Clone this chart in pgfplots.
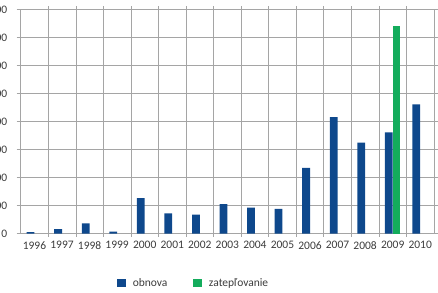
\documentclass[border=0pt]{standalone}
\usepackage{pgfplots}
\pgfplotsset{compat=1.18}
\usepackage{fontspec}
\setmainfont{Carlito}
\definecolor{barblue}{RGB}{14,72,140}
\definecolor{bargreen}{RGB}{20,172,92}
\definecolor{gridgray}{RGB}{165,165,165}
\definecolor{txt}{RGB}{60,60,60}
\begin{document}
\begin{tikzpicture}[x=1pt,y=1pt]
\begin{axis}[
  at={(20.7pt,58.5pt)}, anchor=south west,
  scale only axis, width=413.3pt, height=224.2pt,
  xmin=-0.5, xmax=14.5, ymin=0, ymax=800,
  ybar=0pt, bar width=7.8pt,
  /pgf/number format/assume math mode=true,
  xtick={0,...,14},
  xticklabels={1996,1997,1998,1999,2000,2001,2002,2003,2004,2005,2006,2007,2008,2009,2010},
  minor xtick={0.5,1.5,...,13.5},
  ytick={0,100,...,800},
  yticklabels={0,100,200,300,400,500,600,700,800},
  ymajorgrids, xminorgrids,
  grid style={gridgray, line width=0.6pt},
  minor grid style={gridgray, line width=0.6pt},
  axis line style={gridgray, line width=0.6pt},
  tick align=outside,
  major tick length=4pt,
  minor tick length=3pt,
  xtick style={draw=none},
  minor x tick style={draw=gridgray, line width=0.6pt},
  ytick style={gridgray, line width=0.6pt},
  every tick label/.append style={font=\fontsize{11.5}{13}\selectfont, text=txt},
  yticklabel style={xshift=-6pt},
  xticklabel style={yshift=-0.5pt},
  legend style={at={(0.2337,-0.2208)}, anchor=west, draw=none, fill=none,
    legend columns=2, font=\fontsize{11.5}{13}\selectfont, text=txt,
    /tikz/every odd column/.append style={column sep=5pt},
    /tikz/every even column/.append style={column sep=24pt},
    inner sep=0pt, outer sep=0pt},
  legend cell align=left,
  legend image code/.code={\fill[#1] (0pt,-4pt) rectangle (8.5pt,4pt);},
]
\addplot[fill=barblue, draw=none] coordinates {
(0,5) (1,16) (2,36) (3,7) (4,126) (5,72) (6,67) (7,105) (8,92) (9,88)
(10,234) (11,415) (12,324) (13,361) (14,461)};
\addlegendentry{obnova}
\addplot[fill=bargreen, draw=none] coordinates {(13,741)};
\addlegendentry{zatepľovanie}
\end{axis}
\pgfresetboundingbox
\path[use as bounding box] (0,0) rectangle (438,292);
\end{tikzpicture}
\end{document}
